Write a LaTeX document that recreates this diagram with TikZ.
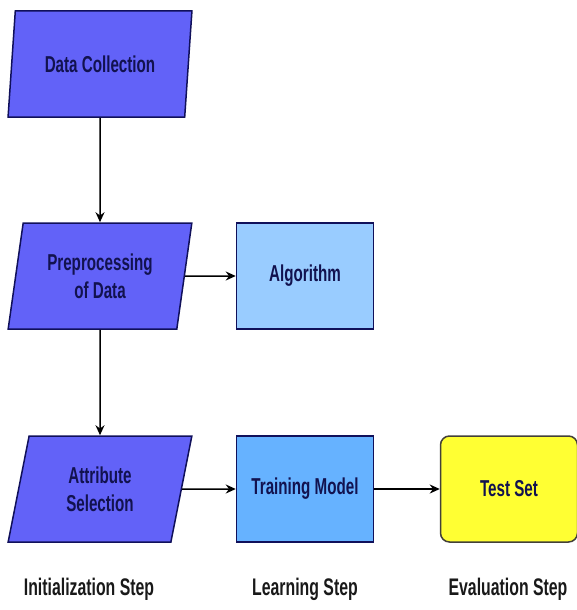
\documentclass[tikz,border=0pt]{standalone}
\usepackage{fontspec}
\setmainfont[FakeStretch=0.66]{Liberation Sans}
\usetikzlibrary{shapes.geometric,arrows.meta}

\definecolor{ioFill}{HTML}{6262F8}
\definecolor{ioLine}{HTML}{10105A}
\definecolor{algoFill}{HTML}{99CCFF}
\definecolor{trainFill}{HTML}{66B2FF}
\definecolor{testFill}{HTML}{FFFF33}
\definecolor{boxText}{HTML}{12124F}

\tikzset{
  io/.style={trapezium, trapezium left angle=78, trapezium right angle=102,
    trapezium stretches=true, minimum width=184pt, minimum height=106pt,
    draw=ioLine, fill=ioFill, line width=1.5pt, text=boxText, align=center,
    font=\fontsize{23}{28}\selectfont\bfseries},
  procbox/.style={rectangle, minimum width=137pt, minimum height=106pt,
    draw=ioLine, line width=1.5pt, text=boxText, align=center,
    font=\fontsize{23}{28}\selectfont\bfseries},
  endbox/.style={procbox, rounded corners=9pt, draw=black!85!yellow, fill=testFill},
  steplabel/.style={font=\fontsize{24}{28}\selectfont\bfseries, text=black!90},
  flow/.style={-{Stealth[length=10pt,width=9pt]}, line width=1.5pt}
}

\begin{document}
\begin{tikzpicture}[x=1pt,y=-1pt]
  \useasboundingbox (0,0) rectangle (577,610);
  % Initialization column
  \node[io] (collect) at (100,64) {Data Collection};
  \node[io] (prep) at (100,276) {Preprocessing\\of Data};
  \node[io] (attr) at (100,489) {Attribute\\Selection};
  % Learning and evaluation
  \node[procbox, fill=algoFill] (algo) at (305,276) {Algorithm};
  \node[procbox, fill=trainFill] (train) at (305,489) {Training Model};
  \node[endbox] (test) at (509,489) {Test Set};
  % Connectors
  \draw[flow] (collect.south) -- (prep.north);
  \draw[flow] (prep.south) -- (attr.north);
  \draw[flow] (prep.east) -- (algo.west);
  \draw[flow] (attr.east) -- (train.west);
  \draw[flow] (train.east) -- (test.west);
  % Step labels
  \node[steplabel] (initstep) at (89,589) {Initialization Step};
  \node[steplabel] (learnstep) at (305,589) {Learning Step};
  \node[steplabel] (evalstep) at (508,589) {Evaluation Step};
\end{tikzpicture}
\end{document}
